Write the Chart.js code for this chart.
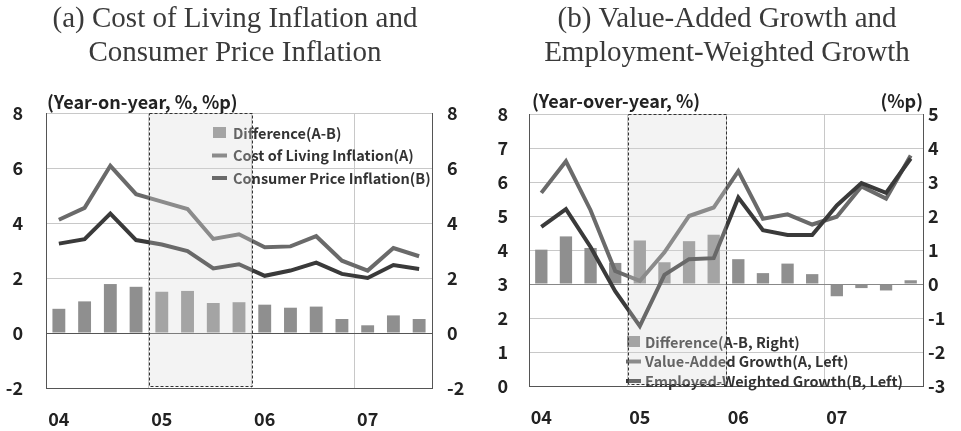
<!DOCTYPE html>
<html>
<head>
<meta charset="utf-8">
<script src="https://cdn.jsdelivr.net/npm/chart.js@4.4.0/dist/chart.umd.min.js"></script>
<style>
  html, body { margin: 0; padding: 0; background: #fff; }
  #wrap { position: relative; width: 961px; height: 431px; }
  .panel { position: absolute; top: 0; }
  #panelA { left: 0; }
  #panelB { left: 480px; }
</style>
</head>
<body>
<div id="wrap">
  <div class="panel" id="panelA"><canvas id="chartA" width="480" height="431"></canvas></div>
  <div class="panel" id="panelB"><canvas id="chartB" width="481" height="431"></canvas></div>
</div>
<script>
// (a) quarterly, 2004 Q1 - 2007 Q3
const quartersA = ['04 Q1', '04 Q2', '04 Q3', '04 Q4', '05 Q1', '05 Q2', '05 Q3', '05 Q4',
                   '06 Q1', '06 Q2', '06 Q3', '06 Q4', '07 Q1', '07 Q2', '07 Q3'];
const diffA = [0.88, 1.15, 1.78, 1.68, 1.50, 1.53, 1.09, 1.12, 1.03, 0.92, 0.96, 0.51, 0.28, 0.64, 0.51];
const costOfLiving = [4.12, 4.55, 6.08, 5.05, 4.78, 4.51, 3.42, 3.59, 3.12, 3.15, 3.52, 2.63, 2.27, 3.09, 2.79];
const consumerPrice = [3.25, 3.41, 4.34, 3.38, 3.22, 2.98, 2.35, 2.50, 2.08, 2.27, 2.56, 2.15, 2.00, 2.47, 2.33];

// (b) quarterly, 2004 Q1 - 2007 Q4
const quartersB = ['04 Q1', '04 Q2', '04 Q3', '04 Q4', '05 Q1', '05 Q2', '05 Q3', '05 Q4',
                   '06 Q1', '06 Q2', '06 Q3', '06 Q4', '07 Q1', '07 Q2', '07 Q3', '07 Q4'];
const diffB = [1.01, 1.40, 1.06, 0.62, 1.28, 0.64, 1.26, 1.45, 0.73, 0.32, 0.60, 0.29, -0.36, -0.12, -0.19, 0.11];
const valueAdded = [5.68, 6.61, 5.17, 3.38, 3.09, 3.93, 5.00, 5.25, 6.32, 4.92, 5.05, 4.75, 4.98, 5.87, 5.51, 6.78];
const empWeighted = [4.68, 5.20, 4.09, 2.79, 1.76, 3.27, 3.73, 3.76, 5.54, 4.58, 4.44, 4.44, 5.31, 5.97, 5.68, 6.69];

// shaded year (2005)
const shadeFrom = '05 Q1';
const shadeTo = '05 Q4';

const SANS = '"Noto Sans CJK KR", "Noto Sans", sans-serif';
const SERIF = '"Liberation Serif", "DejaVu Serif", serif';
const gridGray = '#c8c8c8';
const axisDark = '#555';
const textDark = '#222';
const barGray = '#8f8f8f';
const lineA = '#6a6a6a';
const lineB = '#3a3a3a';

Chart.defaults.font.family = SANS;
Chart.defaults.color = textDark;

// only the first quarter of each year gets a label / a grid line
function yearTick(labels) {
  return (value, index) => labels[index].endsWith('Q1') ? labels[index].slice(0, 2) : '';
}
function yearGrid(labels) {
  return ctx => {
    const lab = labels[ctx.index];
    return (ctx.index > 0 && lab && lab.endsWith('Q1')) ? gridGray : 'rgba(0,0,0,0)';
  };
}

const decor = {
  id: 'decor',
  afterDatasetsDraw(chart, args, o) {
    const { ctx, chartArea: a } = chart;
    const x = chart.scales.x;
    ctx.save();

    // legend inside the plot
    ctx.font = 'bold ' + o.legendSize + 'px ' + SANS;
    ctx.textBaseline = 'middle';
    chart.data.datasets.forEach((ds, i) => {
      const y = o.legendY + i * o.legendGap;
      if (ds.type === 'bar') {
        ctx.fillStyle = ds.backgroundColor;
        ctx.fillRect(o.legendX, y - 6, 13, 11);
      } else {
        ctx.strokeStyle = ds.borderColor;
        ctx.lineWidth = 4;
        ctx.beginPath();
        ctx.moveTo(o.legendX - 1, y);
        ctx.lineTo(o.legendX + 14, y);
        ctx.stroke();
      }
      ctx.fillStyle = '#333';
      ctx.fillText(ds.label, o.legendX + o.textGap, y);
    });

    // shaded box over the highlighted year
    const labels = chart.data.labels;
    const half = (x.getPixelForValue(1) - x.getPixelForValue(0)) / 2;
    const x0 = Math.round(x.getPixelForValue(labels.indexOf(o.shadeFrom)) - half) + 0.5;
    const x1 = Math.round(x.getPixelForValue(labels.indexOf(o.shadeTo)) + half) + 0.5;
    ctx.fillStyle = 'rgba(215,215,215,0.3)';
    ctx.fillRect(x0, a.top, x1 - x0, a.bottom - a.top - 1);
    ctx.setLineDash([3, 2]);
    ctx.strokeStyle = '#333';
    ctx.lineWidth = 1;
    ctx.strokeRect(x0, a.top + 0.5, x1 - x0, a.bottom - a.top - 2);
    ctx.restore();
  },
  afterDraw(chart, args, o) {
    const { ctx } = chart;
    ctx.save();
    ctx.fillStyle = '#3a3a3a';
    ctx.textAlign = 'center';
    ctx.textBaseline = 'middle';
    ctx.font = o.titleSize + 'px ' + SERIF;
    o.title.forEach((t, i) => ctx.fillText(t, o.titleX, 19 + i * 34));

    ctx.fillStyle = textDark;
    ctx.font = 'bold 18px ' + SANS;
    ctx.textAlign = 'left';
    ctx.fillText(o.unitLeft, o.unitX, o.unitY);
    if (o.unitRight) {
      ctx.textAlign = 'right';
      ctx.fillText(o.unitRight, chart.chartArea.right, o.unitY);
    }
    ctx.restore();
  }
};

const tickFont = { size: 18, weight: 'bold', family: SANS };

function barSet(label, data, yAxisID) {
  return { type: 'bar', label, data, yAxisID, backgroundColor: barGray,
           barPercentage: 0.5, categoryPercentage: 1, order: 3 };
}
function lineSet(label, data, color, yAxisID, order) {
  return { type: 'line', label, data, yAxisID, borderColor: color, backgroundColor: color,
           borderWidth: 4, pointRadius: 0, tension: 0, order };
}

new Chart(document.getElementById('chartA'), {
  type: 'bar',
  data: {
    labels: quartersA,
    datasets: [
      barSet('Difference(A-B)', diffA, 'y'),
      lineSet('Cost of Living Inflation(A)', costOfLiving, lineA, 'y', 2),
      lineSet('Consumer Price Inflation(B)', consumerPrice, lineB, 'y', 1)
    ]
  },
  options: {
    responsive: false,
    animation: false,
    devicePixelRatio: 1,
    layout: { padding: { top: 113, left: 0, right: 0, bottom: 0 } },
    plugins: {
      legend: { display: false },
      tooltip: { enabled: false },
      decor: {
        title: ['(a) Cost of Living Inflation and', 'Consumer Price Inflation'],
        titleX: 235, titleSize: 29,
        unitLeft: '(Year-on-year, %, %p)', unitX: 47, unitY: 102,
        legendX: 213, legendY: 133, legendGap: 22.5, legendSize: 14.5, textGap: 20,
        shadeFrom, shadeTo
      }
    },
    scales: {
      x: {
        afterFit: s => { s.height = 43; },
        grid: { color: yearGrid(quartersA), drawTicks: false },
        border: { color: axisDark },
        ticks: { font: tickFont, autoSkip: false, maxRotation: 0, padding: 20, callback: yearTick(quartersA) }
      },
      y: {
        position: 'left', min: -2, max: 8,
        afterFit: s => { s.width = 46; },
        grid: { color: c => c.tick && c.tick.value === 0 ? axisDark : gridGray, drawTicks: false },
        border: { color: axisDark },
        ticks: { font: tickFont, stepSize: 2, padding: 23 }
      },
      y2: {
        position: 'right', min: -2, max: 8,
        afterFit: s => { s.width = 48; },
        grid: { drawOnChartArea: false, drawTicks: false },
        border: { color: axisDark },
        ticks: { font: tickFont, stepSize: 2, padding: 15 }
      }
    }
  },
  plugins: [decor]
});

new Chart(document.getElementById('chartB'), {
  type: 'bar',
  data: {
    labels: quartersB,
    datasets: [
      barSet('Difference(A-B, Right)', diffB, 'y2'),
      lineSet('Value-Added Growth(A, Left)', valueAdded, lineA, 'y', 2),
      lineSet('Employed-Weighted Growth(B, Left)', empWeighted, lineB, 'y', 1)
    ]
  },
  options: {
    responsive: false,
    animation: false,
    devicePixelRatio: 1,
    layout: { padding: { top: 114, left: 0, right: 0, bottom: 0 } },
    plugins: {
      legend: { display: false },
      tooltip: { enabled: false },
      decor: {
        title: ['(b) Value-Added Growth and', 'Employment-Weighted Growth'],
        titleX: 247, titleSize: 29,
        unitLeft: '(Year-over-year, %)', unitRight: '(%p)', unitX: 52, unitY: 101,
        legendX: 147, legendY: 342, legendGap: 19.5, legendSize: 14.5, textGap: 18,
        shadeFrom, shadeTo
      }
    },
    scales: {
      x: {
        afterFit: s => { s.height = 45; },
        grid: { color: yearGrid(quartersB), drawTicks: false },
        border: { color: axisDark },
        ticks: { font: tickFont, autoSkip: false, maxRotation: 0, padding: 20, callback: yearTick(quartersB) }
      },
      y: {
        position: 'left', min: 0, max: 8,
        afterFit: s => { s.width = 49; },
        grid: { color: c => c.tick && c.tick.value === 3 ? '#888' : gridGray, drawTicks: false },
        border: { color: axisDark },
        ticks: { font: tickFont, stepSize: 1, padding: 21 }
      },
      y2: {
        position: 'right', min: -3, max: 5,
        afterFit: s => { s.width = 38; },
        grid: { drawOnChartArea: false, drawTicks: false },
        border: { color: axisDark },
        ticks: { font: tickFont, stepSize: 1, padding: 5 }
      }
    }
  },
  plugins: [decor]
});
</script>
</body>
</html>
